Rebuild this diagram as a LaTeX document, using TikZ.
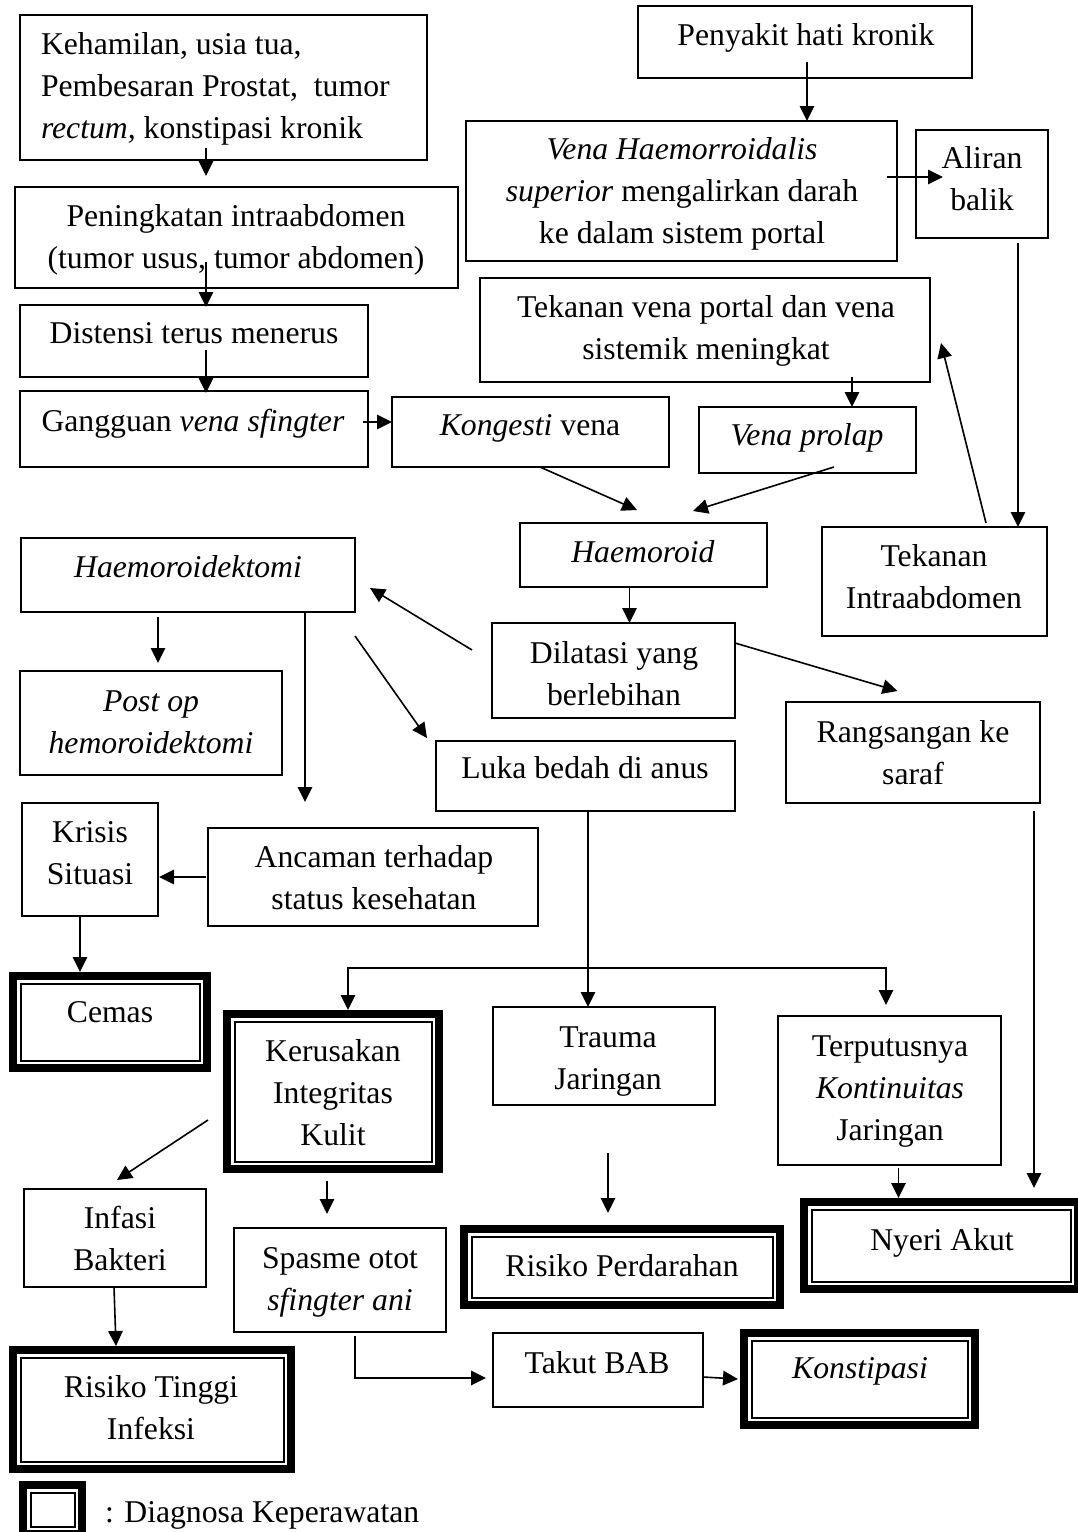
\documentclass[tikz,border=0pt]{standalone}
\usepackage{fontspec}
\setmainfont{Liberation Serif}
\usetikzlibrary{arrows.meta,calc,fit}
\newcommand\mystr{\rule[-12.6pt]{0pt}{42pt}}
\tikzset{
 box/.style={draw, line width=1.8pt, inner sep=0pt, outer sep=0pt},
 hid/.style={inner sep=0pt, outer sep=0pt},
 txt/.style={inner sep=0pt, outer sep=0pt, anchor=north, align=center, font=\fontsize{31.7pt}{42pt}\selectfont},
 arr/.style={-{Triangle[length=15pt,width=14.5pt]}, line width=1.6pt},
}
\newcommand\sbx[5]{\node[box, fit={(#2,#3) (#4,#5)}] (#1) {};}
\newcommand\dbx[5]{\node[hid, fit={(#2,#3) (#4,#5)}] (#1) {};
 \draw[line width=8pt] ([shift={(4,4)}]#1.north west) rectangle ([shift={(-4,-4)}]#1.south east);
 \draw[line width=2pt] ([shift={(11.5,11.5)}]#1.north west) rectangle ([shift={(-11.5,-11.5)}]#1.south east);}
\newcommand\tx[4]{\node[txt] (#1) at (#2,{#3-29.4}) {#4};}
\begin{document}
\begin{tikzpicture}[x=1pt,y=-1pt]
\fill[white] (0,0) rectangle (1078,1532);
\useasboundingbox (0,0) rectangle (1078,1532);
% single boxes
\sbx{b1}{20}{15}{427}{160}
\sbx{b2}{15}{187}{458}{288}
\sbx{b3}{20}{305}{368}{377}
\sbx{b4}{20}{391}{368}{467}
\sbx{kong}{392}{397}{669}{467}
\sbx{pen}{638}{6}{972}{78}
\sbx{vh}{466}{121}{897}{261}
\sbx{al}{916}{130}{1048}{238}
\sbx{tvp}{480}{278}{930}{382}
\sbx{vp}{699}{407}{916}{473}
\sbx{hm}{520}{523}{767}{587}
\sbx{ti}{822}{527}{1047}{636}
\sbx{hk}{21}{538}{355}{612}
\sbx{dl}{492}{623}{735}{718}
\sbx{po}{20}{671}{282}{775}
\sbx{lk}{436}{741}{735}{811}
\sbx{rg}{786}{702}{1040}{803}
\sbx{kr}{22}{803}{158}{916}
\sbx{an}{208}{828}{538}{926}
\sbx{tr}{493}{1007}{715}{1105}
\sbx{tp}{778}{1016}{1001}{1165}
\sbx{ib}{24}{1189}{206}{1287}
\sbx{sp}{234}{1228}{446}{1332}
\sbx{tk}{493}{1333}{703}{1407}
% double boxes
\dbx{cm}{9}{972}{211}{1072}
\dbx{ku}{223}{1010}{443}{1173}
\dbx{rp}{460}{1225}{784}{1309}
\dbx{ny}{800}{1198}{1082}{1293}
\dbx{ko}{740}{1329}{979}{1429}
\dbx{rt}{9}{1346}{295}{1473}
\dbx{lg}{19}{1481}{86}{1538}
% texts
\node[txt, anchor=north west, align=left] (t1) at (41,{54-29.4}) {\mystr Kehamilan, usia tua,\\\mystr Pembesaran Prostat, \ tumor\\\mystr\textit{rectum,} konstipasi kronik};
\tx{t2}{236}{226}{\mystr Peningkatan intraabdomen\\\mystr (tumor usus, tumor abdomen)}
\tx{t3}{194}{343}{\mystr Distensi terus menerus}
\tx{t4}{193}{431}{\mystr Gangguan \textit{vena sfingter}}
\tx{t5}{530}{435}{\mystr\textit{Kongesti} vena}
\tx{t6}{806}{45}{\mystr Penyakit hati kronik}
\tx{t7}{682}{159}{\mystr\textit{Vena Haemorroidalis}\\\mystr\textit{superior} mengalirkan darah\\\mystr ke dalam sistem portal}
\tx{t8}{982}{168}{\mystr Aliran\\\mystr balik}
\tx{t9}{706}{317}{\mystr Tekanan vena portal dan vena\\\mystr sistemik meningkat}
\tx{t10}{807}{445}{\mystr\textit{Vena prolap}}
\tx{t11}{643}{562}{\mystr\textit{Haemoroid}}
\tx{t12}{934}{566}{\mystr Tekanan\\\mystr Intraabdomen}
\tx{t13}{188}{577}{\mystr\textit{Haemoroidektomi}}
\tx{t14}{614}{663}{\mystr Dilatasi yang\\\mystr berlebihan}
\tx{t15}{151}{711}{\mystr\textit{Post op}\\\mystr\textit{hemoroidektomi}}
\tx{t16}{585}{778}{\mystr Luka bedah di anus}
\tx{t17}{913}{742}{\mystr Rangsangan ke\\\mystr saraf}
\tx{t18}{90}{842}{\mystr Krisis\\\mystr Situasi}
\tx{t19}{374}{867}{\mystr Ancaman terhadap\\\mystr status kesehatan}
\tx{t20}{110}{1022}{\mystr Cemas}
\tx{t21}{333}{1061}{\mystr Kerusakan\\\mystr Integritas\\\mystr Kulit}
\tx{t22}{608}{1047}{\mystr Trauma\\\mystr Jaringan}
\tx{t23}{890}{1056}{\mystr Terputusnya\\\mystr\textit{Kontinuitas}\\\mystr Jaringan}
\tx{t24}{120}{1228}{\mystr Infasi\\\mystr Bakteri}
\tx{t25}{340}{1268}{\mystr Spasme otot\\\mystr\textit{sfingter ani}}
\tx{t26}{622}{1276}{\mystr Risiko Perdarahan}
\tx{t27}{942}{1250}{\mystr Nyeri Akut}
\tx{t28}{597}{1373}{\mystr Takut BAB}
\tx{t29}{860}{1378}{\mystr\textit{Konstipasi}}
\tx{t30}{151}{1397}{\mystr Risiko Tinggi\\\mystr Infeksi}
\node[txt, anchor=north west, align=left] (t31) at (105,{1522-29.4}) {\mystr : Diagnosa Keperawatan};
% connectors
\draw[arr] ($(b1.south west)+(186,-12)$) -- ($(b2.north west)+(191,-11)$);
\draw[arr] ($(b2.south west)+(191,-26)$) -- ($(b3.north west)+(186,2)$);
\draw[arr] ($(b3.south west)+(186,-27)$) -- ($(b4.north west)+(186,2)$);
\draw[arr] ($(b4.north east)+(-5,31)$) -- ($(kong.north west)+(0,25)$);
\draw[arr] ($(pen.south west)+(169,-16)$) -- ($(vh.north west)+(341,0)$);
\draw[arr] ($(vh.north east)+(-10,56)$) -- ($(al.north west)+(27,47)$);
\draw[arr] ($(al.south west)+(102,5)$) -- ($(ti.north west)+(196,0)$);
\draw[arr] ($(ti.north west)+(164,-4)$) -- ($(tvp.south east)+(11,-39)$);
\draw[arr] ($(tvp.south west)+(372,-5)$) -- ($(vp.north west)+(153,0)$);
\draw[arr] ($(kong.south west)+(148,0)$) -- ($(hm.north west)+(117,-13)$);
\draw[arr] ($(vp.south west)+(135,-6)$) -- ($(hm.north west)+(173,-12)$);
\draw[arr] ($(hm.south west)+(109.5,0)$) -- ($(dl.north west)+(137.5,0)$);
\draw[arr] ($(dl.north east)+(0,20)$) -- ($(rg.north west)+(111.5,-11)$);
\draw[arr] ($(dl.north west)+(-20,27)$) -- ($(hk.north east)+(15,50)$);
\draw[arr] ($(hk.south west)+(137,5)$) -- ($(po.north west)+(138,-8)$);
\draw[arr] ($(hk.south west)+(284,0)$) -- ($(an.north west)+(97,-26)$);
\draw[arr] ($(hk.south east)+(0,24)$) -- ($(lk.north west)+(-9,-3)$);
\draw[arr] ($(an.north west)+(-2,49)$) -- ($(kr.north east)+(1,74)$);
\draw[arr] ($(kr.south west)+(58,0)$) -- ($(cm.north west)+(71,0)$);
\coordinate (j1) at ($(lk.south west)+(152,157)$);
\draw[arr] ($(lk.south west)+(152,0)$) -- ($(tr.north west)+(95,0)$);
\draw[arr] (j1) -| ($(ku.north west)+(125,0)$);
\draw[arr] (j1) -| ($(tp.north west)+(108,-11)$);
\draw[arr] ($(tr.south west)+(115,48)$) -- ($(rp.north west)+(148,-12)$);
\draw[arr] ($(tp.south west)+(120.5,3)$) -- ($(ny.north west)+(98.5,0)$);
\draw[arr] ($(rg.south east)+(-6,8)$) -- ($(ny.north west)+(234,-10)$);
\draw[arr] ($(ku.west)+(-15,28.5)$) -- ($(ib.north west)+(93,-9)$);
\draw[arr] ($(ku.south west)+(104,8)$) -- ($(sp.north west)+(93,-14)$);
\draw[arr] ($(ib.south west)+(90,0)$) -- ($(rt.north west)+(107,0)$);
\draw[arr] ($(sp.south west)+(121,4)$) |- ($(tk.west)+(-7,8)$);
\draw[arr] ($(tk.north east)+(0,44)$) -- ($(ko.north west)+(-2,50)$);
\end{tikzpicture}
\end{document}
